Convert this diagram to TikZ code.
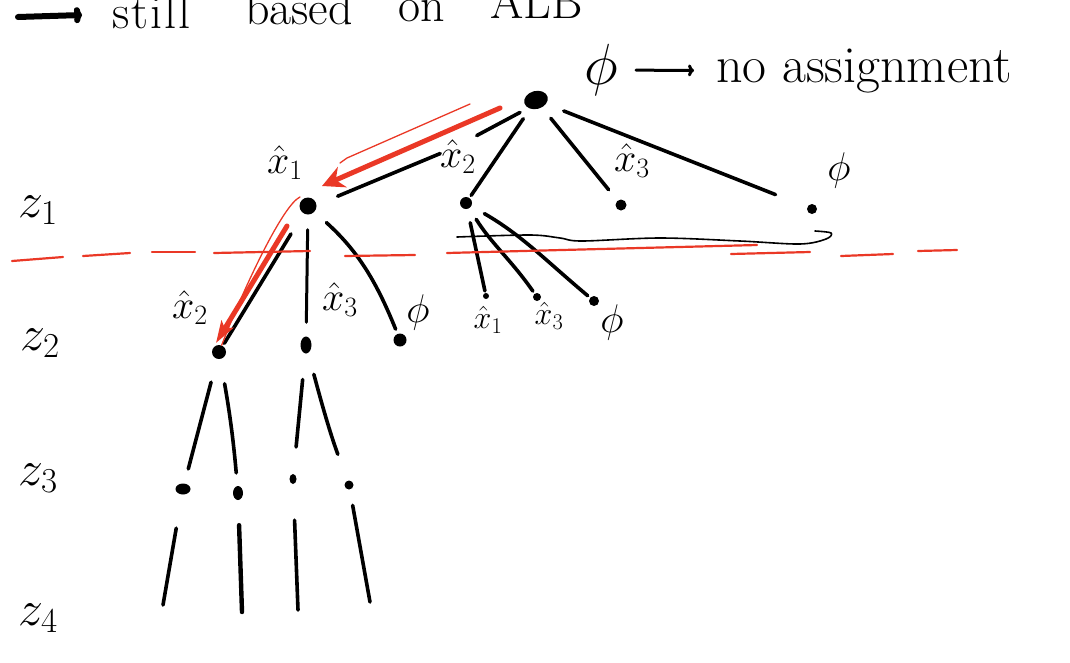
\RequirePackage{fix-cm}
\documentclass[tikz,border=0pt]{standalone}
\usetikzlibrary{calc,arrows.meta,shapes.geometric}
\definecolor{redink}{RGB}{234,56,38}
\tikzset{
  ink/.style={line width=3.6pt, line cap=round, draw=black},
  thinink/.style={line width=1.6pt, line cap=round, draw=black},
  redthick/.style={line width=5pt, line cap=round, draw=redink},
  redthin/.style={line width=1.3pt, line cap=round, draw=redink},
  reddash/.style={line width=2.2pt, line cap=round, draw=redink},
  dot/.style={circle, fill=black, inner sep=0pt, minimum size=#1},
  dot/.default=10pt,
  lbl/.style={font=\fontsize{40}{42}\selectfont, inner sep=0pt},
  slbl/.style={font=\fontsize{32}{34}\selectfont, inner sep=0pt},
  zlbl/.style={font=\fontsize{50}{52}\selectfont, inner sep=0pt},
  handtext/.style={font=\fontsize{48}{50}\selectfont, inner sep=0pt, anchor=base west},
}
\begin{document}
\begin{tikzpicture}[x=1pt,y=-1pt]
\useasboundingbox (0,0) rectangle (1070,662);

% ---- top text (cut off at the page top, as in the reference)
\coordinate (tarr) at (18,17);
\coordinate (tarr2) at (82,15);
\node[handtext] (still) at (112,28) {s\kern2pt t\kern2pt i\kern2pt l\kern2pt l};
\node[handtext] (based) at (245,24) {based};
\node[handtext] (on) at (398,21) {on};
\node[handtext] (alb) at (490,18) {ALB};
\draw[ink, line width=6pt, -{To[length=8pt,width=16pt]}] (tarr) -- (tarr2);

% ---- legend
\node[font=\fontsize{58}{60}\selectfont, inner sep=0pt] (phitop) at (601,70) {$\phi$};
\node[font=\fontsize{52}{54}\selectfont, inner sep=0pt, anchor=base west] (na) at (716,82) {no assignment};
\draw[ink, line width=3pt, -{To[length=6pt,width=12pt]}, shorten <=18pt, shorten >=22pt] (phitop) -- (na.west);

% ---- level labels
\node[zlbl] (z1) at (38,210) {$z_1$};
\node[zlbl] (z2) at (40,343) {$z_2$};
\node[zlbl] (z3) at (38,478) {$z_3$};
\node[zlbl] (z4) at (38,618) {$z_4$};

% ---- nodes
\node[ellipse, fill=black, inner sep=0pt, minimum width=24pt, minimum height=18pt, rotate=15] (root) at (536,100) {};
\node[dot=17pt] (n1) at (308,206) {};
\node[dot=12pt] (n2) at (466,203) {};
\node[dot=11pt] (n3) at (621,205) {};
\node[dot=10pt] (n4) at (812,209) {};
\node[dot=14pt] (m1) at (219,352) {};
\node[ellipse, fill=black, inner sep=0pt, minimum width=11pt, minimum height=17pt] (m2) at (306,345) {};
\node[dot=13pt] (m3) at (400,340) {};
\node[dot=6pt] (k1) at (486,296) {};
\node[dot=8pt] (k2) at (537,297) {};
\node[dot=10pt] (k3) at (594,301) {};
\node[ellipse, fill=black, inner sep=0pt, minimum width=15pt, minimum height=11pt] (p1) at (183,489) {};
\node[ellipse, fill=black, inner sep=0pt, minimum width=10pt, minimum height=14pt] (p2) at (238,493) {};
\node[ellipse, fill=black, inner sep=0pt, minimum width=7pt, minimum height=10pt] (p3) at (293,479) {};
\node[dot=9pt] (p4) at (349,485) {};
\coordinate (q1) at (163,605);
\coordinate (q2) at (242,612);
\coordinate (q3) at (298,610);
\coordinate (q4) at (370,602);

% ---- labels
\node[lbl] (l1) at (285,163) {$\hat{x}_1$};
\node[lbl] (l2) at (458,157) {$\hat{x}_2$};
\node[lbl] (l3) at (632,161) {$\hat{x}_3$};
\node[lbl] (l4) at (839,170) {$\phi$};
\node[lbl] (l5) at (190,308) {$\hat{x}_2$};
\node[lbl] (l6) at (340,300) {$\hat{x}_3$};
\node[lbl] (l7) at (418,312) {$\phi$};
\node[slbl] (l8) at (488,320) {$\hat{x}_1$};
\node[slbl] (l9) at (549,316) {$\hat{x}_3$};
\node[lbl] (l10) at (612,322) {$\phi$};

% ---- level 1 edges
\draw[ink] ($(root)!0.07!(n1)+(0,5)$) -- ($(root)!0.26!(n1)+(0,8)$);
\draw[ink] ($(root)!0.42!(n1)+(0,9)$) -- ($(root)!0.87!(n1)+(0,4)$);
\draw[ink, shorten <=12pt, shorten >=3pt] (root) -- (n2);
\draw[ink, shorten <=14pt, shorten >=14pt] (root) -- (n3);
\draw[ink, shorten <=19pt, shorten >=34pt] (root) -- (n4);

% ---- level 2 edges
\draw[ink, shorten <=24pt, shorten >=3pt] (n1) -- (m1);
\draw[ink, line width=3pt, shorten <=15pt, shorten >=14pt] (n1) -- (m2);
\draw[ink, shorten <=16pt, shorten >=5pt] (n1) to[out=-42,in=112] (m3);
\draw[ink, shorten <=14pt, shorten >=2pt] (n2) -- (k1);
\draw[ink, shorten <=13pt, shorten >=3pt] (n2) to[out=-58,in=125] (k2);
\draw[ink, shorten <=15pt, shorten >=3pt] (n2) to[out=-30,in=140] (k3);

% ---- level 3 edges
\draw[ink, shorten <=24pt, shorten >=15pt] (m1) -- (p1);
\draw[ink, shorten <=25pt, shorten >=13pt] (m1) to[out=-80,in=95] (p2);
\draw[ink, shorten <=26pt, shorten >=27pt] (m2) -- (p3);
\draw[ink, shorten <=22pt, shorten >=28pt] (m2) to[out=-75,in=110] (p4);

% ---- level 4 edges
\draw[ink, shorten <=34pt] (p1) -- (q1);
\draw[ink, line width=4.4pt, shorten <=25pt] (p2) -- (q2);
\draw[ink, shorten <=36pt] (p3) -- (q3);
\draw[ink, shorten <=16pt] (p4) -- (q4);

% ---- thin black stroke under the x2 subtree
\draw[thinink] plot[smooth, tension=0.55] coordinates {(457,237) (530,235) (560,238) (582,241) (660,238) (740,241) (800,244) (826,239) (831,233) (815,231)};

% ---- red dashed separator
\draw[reddash] (12,261) -- (63,257);
\draw[reddash] (83,256) -- (130,253);
\draw[reddash] (152,252) -- (195,252);
\draw[reddash] (214,253) -- (310,251);
\draw[reddash] (345,256) -- (415,255);
\draw[reddash] (447,253) .. controls (560,250) and (680,247) .. (757,245);
\draw[reddash] (731,254) -- (810,252);
\draw[reddash] (841,256) -- (893,254);
\draw[reddash] (918,251) -- (957,250);

% ---- red search arrows
\coordinate (ra1) at (500,108);
\coordinate (ra2) at (322,186);
\draw[redthick, -{Stealth[length=22pt,width=22pt,inset=7pt]}] (ra1) -- (ra2);
\coordinate (rt1) at (470,104);
\coordinate (rt2) at (347,158);
\draw[redthin] (rt1) -- (rt2) -- (340,163);
\coordinate (rb1) at (287,226);
\coordinate (rb2) at (216,343);
\draw[redthick, -{Stealth[length=22pt,width=14pt,inset=5pt]}] (rb1) -- (rb2);
\coordinate (rc1) at (300,197);
\draw[redthin] (rc1) .. controls (283,205) and (245,285) .. (m1);
\end{tikzpicture}
\end{document}
